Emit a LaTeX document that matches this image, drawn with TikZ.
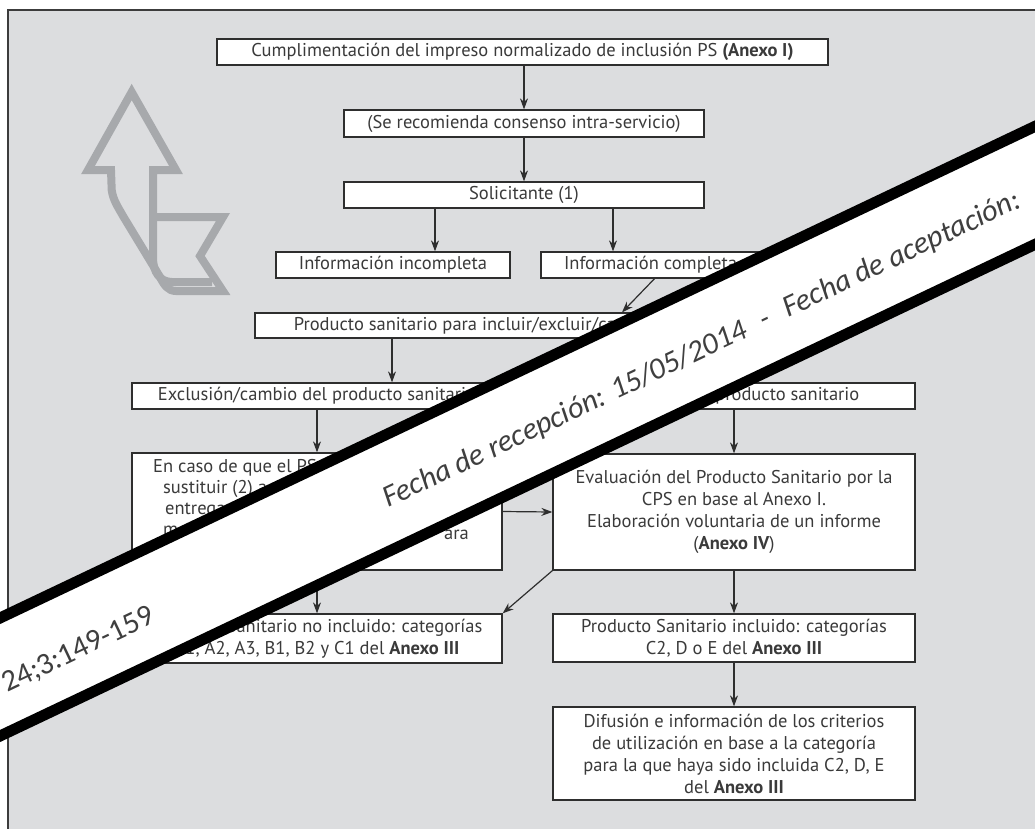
\documentclass[tikz,border=0pt]{standalone}
\usepackage{fontspec}
\newfontfamily\diagfont{PT Sans}
\newfontfamily\bandfont{Carlito}
\usetikzlibrary{arrows.meta}

\definecolor{panel}{HTML}{DCDDDF}
\definecolor{frameline}{HTML}{3C3C3C}
\definecolor{boxline}{HTML}{2E2E2E}
\definecolor{boxtext}{HTML}{3A3A3A}
\definecolor{logo}{HTML}{A7A9AC}
\definecolor{bandtext}{HTML}{3F3F3F}

\newcommand\boxfont{\diagfont\fontsize{18.5}{22}\selectfont}

\tikzset{
  box/.style={draw=boxline, fill=white, line width=1.3pt, inner sep=0pt,
    align=center, text=boxtext, font=\boxfont},
  link/.style={draw=boxline, line width=1.2pt, -{Stealth[length=11pt, width=8pt]}},
  bandline/.style={draw=black, line width=11pt},
  bandlabel/.style={text=bandtext, inner sep=0pt, rotate=25.4,
    font=\bandfont\fontsize{30.5}{36}\selectfont}
}

\begin{document}
\begin{tikzpicture}[x=1pt, y=-1pt]
\clip (0,0) rectangle (1035,828);
\fill[white] (0,0) rectangle (1035,828);
\draw[fill=panel, draw=frameline, line width=1.5pt] (8,10) rectangle (1050,845);

% logo
\draw[logo, line width=8pt, line join=miter] (131.7,92) -- (88,170) -- (111,170) -- (111.7,190)
  .. controls (113,200) and (118,207) .. (123,216) -- (160,277)
  .. controls (164,285) and (168,291) .. (176,291) -- (223,291) -- (200,256) -- (223,217)
  -- (153,217) -- (153,170) -- (176,170) -- cycle;
\draw[logo, line width=8pt] (153,217) -- (153,258) .. controls (153,272) and (160,282) .. (172,282) -- (212,282);

% boxes
\node[box, minimum width=611, minimum height=26] (impreso) at (522.5,52)
  {Cumplimentación del impreso normalizado de inclusión PS \textbf{(Anexo I)}};
\node[box, minimum width=360, minimum height=27] (consenso) at (524,123.5)
  {(Se recomienda consenso intra-servicio)};
\node[box, minimum width=360, minimum height=26] (solicitante) at (524,195)
  {Solicitante (1)};
\node[box, minimum width=234, minimum height=26] (incompleta) at (393,265)
  {Información incompleta};
\node[box, minimum width=219, minimum height=26] (completa) at (650.5,265)
  {Información completa};
\node[box, minimum width=445, minimum height=25] (producto) at (477.5,325.5)
  {Producto sanitario para incluir/excluir/cambiar};
\node[box, minimum width=370, minimum height=26] (exclusion) at (317,396)
  {Exclusión/cambio del producto sanitario};
\node[box, minimum width=362, minimum height=26] (inclusion) at (734,396)
  {Inclusión del producto sanitario};
\node[box, minimum width=370, minimum height=117] (sustituir) at (317,511.5) {};
\node[anchor=north west, align=left, inner sep=0pt, text=boxtext,
  font=\diagfont\fontsize{18.5}{21}\selectfont] (sustituirtxt) at (153,459)
  {En caso de que el PS\\\hspace*{10pt}sustituir (2) a\\\hspace*{12pt}entrega\\\hspace*{10pt}m};
\node[anchor=base east, inner sep=0pt, text=boxtext, font=\boxfont] (sustituirfin) at (469,539) {ara};
\node[box, minimum width=362, minimum height=116] (evaluacion) at (734,512)
  {Evaluación del Producto Sanitario por la\\CPS en base al Anexo I.\\Elaboración voluntaria de un informe\\(\textbf{Anexo IV})};
\node[box, minimum width=370, minimum height=49] (noincluido) at (317,638.5)
  {Producto Sanitario no incluido: categorías\\A1, A2, A3, B1, B2 y C1 del \textbf{Anexo III}};
\node[box, minimum width=362, minimum height=48] (incluido) at (734,638)
  {Producto Sanitario incluido: categorías\\C2, D o E del \textbf{Anexo III}};
\node[box, minimum width=362, minimum height=93] (difusion) at (734,753.5)
  {Difusión e información de los criterios\\de utilización en base a la categoría\\para la que haya sido incluida C2, D, E\\del \textbf{Anexo III}};

% connectors
\draw[link] (impreso.south -| consenso.north) -- (consenso.north);
\draw[link] (consenso.south) -- (solicitante.north);
\draw[link] ([xshift=-89pt]solicitante.south) -- ([xshift=-89pt]solicitante.south |- incompleta.north);
\draw[link] ([xshift=89pt]solicitante.south) -- ([xshift=89pt]solicitante.south |- completa.north);
\draw[link] ([xshift=4pt]completa.south) -- ([xshift=144.5pt]producto.north);
\draw[link] ([xshift=-85.5pt]producto.south) -- ([xshift=-85.5pt]producto.south |- exclusion.north);
\draw[link] (exclusion.south) -- (sustituir.north);
\draw[link] (inclusion.south) -- (evaluacion.north);
\draw[link] (sustituir.east) -- (evaluacion.west);
\draw[link] (sustituir.south) -- (noincluido.north);
\draw[link] (evaluacion.south west) -- (noincluido.north east);
\draw[link] (evaluacion.south) -- (incluido.north);
\draw[link] (incluido.south) -- (difusion.north);

% band
\fill[white] (-20,627.5) -- (1060,114.5) -- (1060,232.5) -- (-20,745.5) -- cycle;
\draw[bandline] (-20,627.5) -- (1060,114.5);
\draw[bandline] (-20,745.5) -- (1060,232.5);
\node[bandlabel, anchor=base west, font=\bandfont\itshape\fontsize{30.5}{36}\selectfont] (recepcion) at (388,508)
  {Fecha de recepción: 15/05/2014\hspace{17pt}-\hspace{17pt}Fecha de aceptación:};
\node[bandlabel, anchor=base west] (paginas) at (7,693) {24;3:149-159};
\end{tikzpicture}
\end{document}
